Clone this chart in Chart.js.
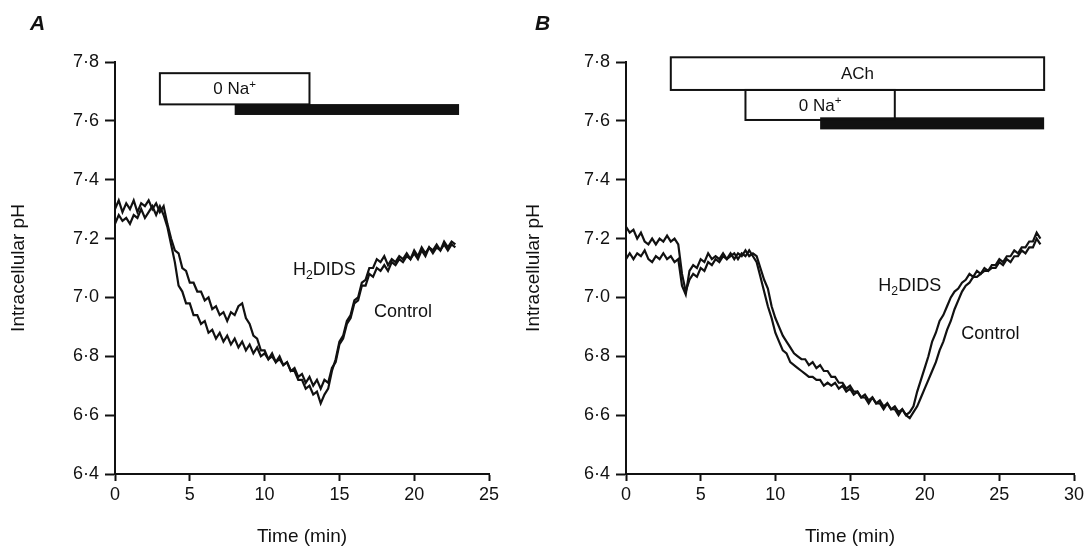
<!DOCTYPE html>
<html>
<head>
<meta charset="utf-8">
<script src="https://cdn.jsdelivr.net/npm/chart.js@4"></script>
<style>
  html, body { margin: 0; padding: 0; background: #fff; }
  #wrap { position: relative; width: 1090px; height: 546px; }
  canvas { position: absolute; top: 0; }
  #chartA { left: 0; }
  #chartB { left: 515px; }
</style>
</head>
<body>
<div id="wrap">
  <canvas id="chartA" width="515" height="546"></canvas>
  <canvas id="chartB" width="575" height="546"></canvas>
</div>
<script>
// ---- panel A: 0 Na+ then H2DIDS / control ----
const timesA = [
  0, 0.25, 0.5, 0.75, 1, 1.25, 1.5, 1.75,
  2, 2.25, 2.5, 2.75, 3, 3.25, 3.5, 3.75,
  4, 4.25, 4.5, 4.75, 5, 5.25, 5.5, 5.75,
  6, 6.25, 6.5, 6.75, 7, 7.25, 7.5, 7.75,
  8, 8.25, 8.5, 8.75, 9, 9.25, 9.5, 9.75,
  10, 10.25, 10.5, 10.75, 11, 11.25, 11.5, 11.75,
  12, 12.25, 12.5, 12.75, 13, 13.25, 13.5, 13.75,
  14, 14.25, 14.5, 14.75, 15, 15.25, 15.5, 15.75,
  16, 16.25, 16.5, 16.75, 17, 17.25, 17.5, 17.75,
  18, 18.25, 18.5, 18.75, 19, 19.25, 19.5, 19.75,
  20, 20.25, 20.5, 20.75, 21, 21.25, 21.5, 21.75,
  22, 22.25, 22.5, 22.75,
];
const phControlA = [
  7.30, 7.33, 7.29, 7.32, 7.30, 7.33, 7.29, 7.32,
  7.31, 7.33, 7.30, 7.32, 7.29, 7.31, 7.25, 7.20,
  7.16, 7.15, 7.10, 7.09, 7.05, 7.05, 7.02, 7.02,
  6.99, 7.00, 6.96, 6.97, 6.94, 6.95, 6.92, 6.95,
  6.94, 6.97, 6.98, 6.93, 6.91, 6.87, 6.86, 6.82,
  6.82, 6.79, 6.81, 6.78, 6.80, 6.77, 6.78, 6.75,
  6.76, 6.73, 6.74, 6.71, 6.73, 6.70, 6.72, 6.69,
  6.72, 6.71, 6.76, 6.78, 6.84, 6.86, 6.91, 6.93,
  6.98, 6.99, 7.04, 7.04, 7.08, 7.07, 7.10, 7.09,
  7.11, 7.09, 7.12, 7.11, 7.13, 7.12, 7.14, 7.13,
  7.15, 7.13, 7.16, 7.14, 7.17, 7.15, 7.17, 7.16,
  7.18, 7.16, 7.18, 7.17,
];
const phDidsA = [
  7.25, 7.28, 7.26, 7.27, 7.25, 7.28, 7.27, 7.30,
  7.27, 7.29, 7.31, 7.28, 7.31, 7.28, 7.24, 7.18,
  7.12, 7.04, 7.02, 6.98, 6.98, 6.94, 6.94, 6.91,
  6.92, 6.88, 6.89, 6.86, 6.88, 6.85, 6.87, 6.84,
  6.86, 6.83, 6.85, 6.82, 6.84, 6.81, 6.83, 6.80,
  6.81, 6.79, 6.80, 6.78, 6.79, 6.77, 6.78, 6.75,
  6.75, 6.72, 6.72, 6.69, 6.70, 6.67, 6.68, 6.64,
  6.67, 6.69, 6.75, 6.79, 6.85, 6.87, 6.92, 6.94,
  6.99, 7.00, 7.05, 7.06, 7.10, 7.10, 7.13, 7.12,
  7.14, 7.11, 7.13, 7.12, 7.14, 7.13, 7.15, 7.13,
  7.16, 7.14, 7.17, 7.15, 7.17, 7.16, 7.18, 7.16,
  7.19, 7.17, 7.19, 7.18,
];
const naFreeA = [3, 13];
const blockerA = [8, 23];

// ---- panel B: ACh, then 0 Na+ ----
const timesB = [
  0, 0.25, 0.5, 0.75, 1, 1.25, 1.5, 1.75,
  2, 2.25, 2.5, 2.75, 3, 3.25, 3.5, 3.75,
  4, 4.25, 4.5, 4.75, 5, 5.25, 5.5, 5.75,
  6, 6.25, 6.5, 6.75, 7, 7.25, 7.5, 7.75,
  8, 8.25, 8.5, 8.75, 9, 9.25, 9.5, 9.75,
  10, 10.25, 10.5, 10.75, 11, 11.25, 11.5, 11.75,
  12, 12.25, 12.5, 12.75, 13, 13.25, 13.5, 13.75,
  14, 14.25, 14.5, 14.75, 15, 15.25, 15.5, 15.75,
  16, 16.25, 16.5, 16.75, 17, 17.25, 17.5, 17.75,
  18, 18.25, 18.5, 18.75, 19, 19.25, 19.5, 19.75,
  20, 20.25, 20.5, 20.75, 21, 21.25, 21.5, 21.75,
  22, 22.25, 22.5, 22.75, 23, 23.25, 23.5, 23.75,
  24, 24.25, 24.5, 24.75, 25, 25.25, 25.5, 25.75,
  26, 26.25, 26.5, 26.75, 27, 27.25, 27.5, 27.75,
];
const phControlB = [
  7.24, 7.22, 7.23, 7.20, 7.22, 7.19, 7.18, 7.20,
  7.18, 7.20, 7.19, 7.21, 7.19, 7.20, 7.18, 7.08,
  7.02, 7.06, 7.08, 7.07, 7.10, 7.09, 7.12, 7.11,
  7.13, 7.12, 7.14, 7.13, 7.15, 7.13, 7.15, 7.14,
  7.16, 7.14, 7.15, 7.14, 7.10, 7.06, 7.03, 6.97,
  6.93, 6.90, 6.87, 6.85, 6.83, 6.81, 6.80, 6.79,
  6.79, 6.77, 6.78, 6.76, 6.77, 6.75, 6.75, 6.73,
  6.73, 6.71, 6.71, 6.69, 6.70, 6.68, 6.68, 6.66,
  6.67, 6.65, 6.66, 6.64, 6.65, 6.63, 6.64, 6.62,
  6.63, 6.61, 6.62, 6.60, 6.59, 6.61, 6.63, 6.66,
  6.69, 6.72, 6.75, 6.78, 6.82, 6.85, 6.89, 6.92,
  6.96, 6.99, 7.02, 7.04, 7.05, 7.07, 7.07, 7.08,
  7.09, 7.09, 7.10, 7.10, 7.12, 7.11, 7.13, 7.12,
  7.14, 7.14, 7.16, 7.15, 7.17, 7.17, 7.20, 7.18,
];
const phDidsB = [
  7.13, 7.15, 7.13, 7.15, 7.14, 7.16, 7.13, 7.12,
  7.14, 7.13, 7.15, 7.13, 7.14, 7.12, 7.13, 7.04,
  7.01, 7.09, 7.11, 7.10, 7.13, 7.12, 7.15, 7.13,
  7.14, 7.13, 7.15, 7.13, 7.14, 7.15, 7.13, 7.15,
  7.14, 7.16, 7.14, 7.12, 7.07, 7.02, 6.97, 6.93,
  6.88, 6.85, 6.82, 6.81, 6.78, 6.77, 6.76, 6.75,
  6.74, 6.73, 6.73, 6.72, 6.72, 6.70, 6.71, 6.70,
  6.71, 6.69, 6.70, 6.68, 6.69, 6.67, 6.68, 6.66,
  6.66, 6.64, 6.66, 6.64, 6.64, 6.62, 6.64, 6.62,
  6.62, 6.60, 6.62, 6.60, 6.61, 6.63, 6.68, 6.72,
  6.76, 6.80, 6.85, 6.88, 6.92, 6.94, 6.97, 7.00,
  7.02, 7.03, 7.05, 7.06, 7.08, 7.07, 7.09, 7.08,
  7.10, 7.09, 7.11, 7.11, 7.13, 7.12, 7.14, 7.14,
  7.16, 7.15, 7.17, 7.17, 7.19, 7.19, 7.22, 7.20,
];
const achB = [3, 28];
const naFreeB = [8, 18];
const blockerB = [13, 28];

const yTicks = ["6·4", "6·6", "6·8", "7·0", "7·2", "7·4", "7·6", "7·8"];

const ink = "#111";
const family = '"Liberation Sans", Arial, Helvetica, sans-serif';

// draws text with sub/superscript pieces, centred on x
function drawRich(ctx, parts, x, y, size) {
  let total = 0;
  parts.forEach(([t, k]) => {
    ctx.font = `${k ? size * 0.68 : size}px ${family}`;
    total += ctx.measureText(t).width;
  });
  let cx = x - total / 2;
  parts.forEach(([t, k]) => {
    const s = k ? size * 0.68 : size;
    ctx.font = `${s}px ${family}`;
    const dy = k === "sub" ? size * 0.32 : k === "sup" ? -size * 0.3 : 0;
    ctx.fillText(t, cx, y + dy);
    cx += ctx.measureText(t).width;
  });
}

const decor = {
  id: "decor",
  afterDraw(chart, args, opts) {
    const { ctx } = chart;
    const { x, y } = chart.scales;
    ctx.save();
    ctx.fillStyle = ink;
    ctx.textAlign = "left";
    ctx.textBaseline = "middle";
    ctx.font = `italic bold 21px ${family}`;
    ctx.fillText(opts.letter, opts.letterX, 24);

    opts.boxes.forEach((b) => {
      const l = x.getPixelForValue(b.span[0]);
      const r = x.getPixelForValue(b.span[1]);
      const t = y.getPixelForValue(b.top);
      const bt = y.getPixelForValue(b.bottom);
      if (b.solid) {
        ctx.fillStyle = ink;
        ctx.fillRect(l, t, r - l, bt - t);
      } else {
        ctx.lineWidth = 2;
        ctx.strokeStyle = ink;
        ctx.strokeRect(l, t, r - l, bt - t);
        ctx.fillStyle = ink;
        drawRich(ctx, b.text, (l + r) / 2, (t + bt) / 2 + 1, 17);
      }
    });

    ctx.fillStyle = ink;
    opts.labels.forEach((lb) => {
      drawRich(ctx, lb.text, x.getPixelForValue(lb.at[0]), y.getPixelForValue(lb.at[1]), 18);
    });
    ctx.restore();
  },
};

function scalesFor(xMax, yWidth) {
  const tickFont = { family, size: 18 };
  const titleFont = { family, size: 19 };
  return {
    x: {
      type: "linear",
      min: 0,
      max: xMax,
      ticks: { stepSize: 5, color: ink, font: tickFont, padding: 3, maxRotation: 0 },
      grid: { drawOnChartArea: false, drawTicks: true, tickLength: 7, tickColor: ink, tickWidth: 2 },
      border: { color: ink, width: 2 },
      title: { display: true, text: "Time (min)", color: ink, font: { family, size: 19, lineHeight: 1 }, padding: { top: 0, bottom: 0 } },
      afterFit(s) { s.height = 72; },
    },
    y: {
      type: "linear",
      min: 6.4,
      max: 7.8,
      ticks: {
        stepSize: 0.2,
        color: ink,
        font: tickFont,
        padding: 6,
        callback: (v) => yTicks[Math.round((v - 6.4) / 0.2)],
      },
      grid: { drawOnChartArea: false, drawTicks: true, tickLength: 10, tickColor: ink, tickWidth: 2 },
      border: { color: ink, width: 2 },
      title: { display: true, text: "Intracellular pH", color: ink, font: titleFont, padding: { top: 7, bottom: 0 } },
      afterFit(s) { s.width = yWidth; },
    },
  };
}

function trace(label, times, values) {
  return {
    label,
    data: times.map((t, i) => ({ x: t, y: values[i] })),
    borderColor: ink,
    borderWidth: 2.2,
    pointRadius: 0,
    tension: 0,
    fill: false,
  };
}

new Chart(document.getElementById("chartA"), {
  type: "line",
  data: {
    datasets: [
      trace("Control", timesA, phControlA),
      trace("H2DIDS", timesA, phDidsA),
    ],
  },
  options: {
    responsive: false,
    animation: false,
    layout: { padding: { top: 62, right: 26, bottom: 0, left: 0 } },
    scales: scalesFor(25, 115),
    plugins: {
      legend: { display: false },
      tooltip: { enabled: false },
      decor: {
        letter: "A",
        letterX: 30,
        boxes: [
          { span: blockerA, top: 7.657, bottom: 7.62, solid: true },
          { span: naFreeA, top: 7.762, bottom: 7.656, text: [["0 Na"], ["+", "sup"]] },
        ],
        labels: [
          { at: [14.0, 7.093], text: [["H"], ["2", "sub"], ["DIDS"]] },
          { at: [19.25, 6.95], text: [["Control"]] },
        ],
      },
    },
  },
  plugins: [decor],
});

new Chart(document.getElementById("chartB"), {
  type: "line",
  data: {
    datasets: [
      trace("Control", timesB, phControlB),
      trace("H2DIDS", timesB, phDidsB),
    ],
  },
  options: {
    responsive: false,
    animation: false,
    layout: { padding: { top: 62, right: 16, bottom: 0, left: 0 } },
    scales: scalesFor(30, 111),
    plugins: {
      legend: { display: false },
      tooltip: { enabled: false },
      decor: {
        letter: "B",
        letterX: 20,
        boxes: [
          { span: blockerB, top: 7.612, bottom: 7.571, solid: true },
          { span: achB, top: 7.816, bottom: 7.705, text: [["ACh"]] },
          { span: naFreeB, top: 7.705, bottom: 7.603, text: [["0 Na"], ["+", "sup"]] },
        ],
        labels: [
          { at: [19.0, 7.04], text: [["H"], ["2", "sub"], ["DIDS"]] },
          { at: [24.4, 6.876], text: [["Control"]] },
        ],
      },
    },
  },
  plugins: [decor],
});
</script>
</body>
</html>
